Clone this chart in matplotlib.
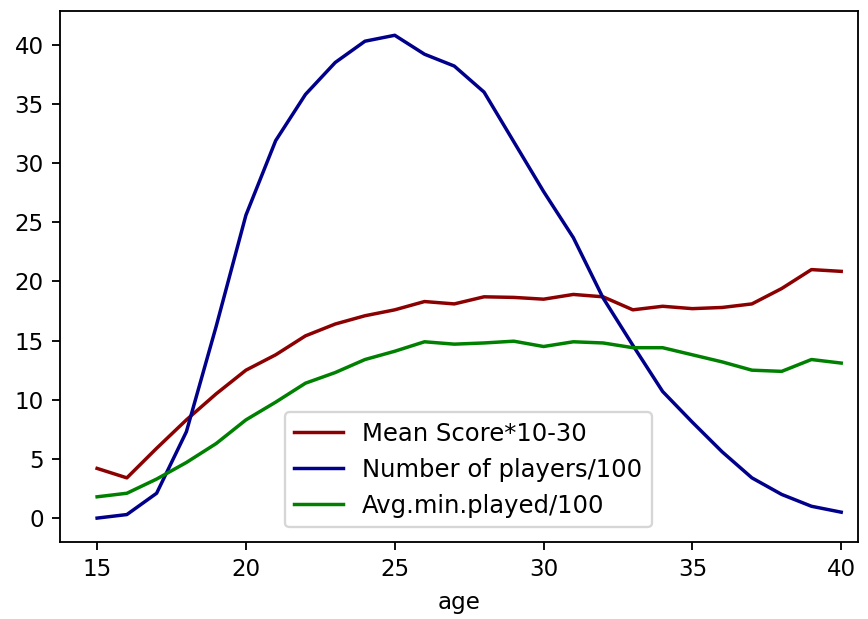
import matplotlib
matplotlib.use("Agg")
import matplotlib.pyplot as plt

# edades
ages = list(range(15, 41))

# puntuacion media *10 - 30
mean_score = [4.2, 3.4, 5.9, 8.3, 10.5, 12.5, 13.8, 15.4, 16.4, 17.1, 17.6, 18.3, 18.1,
              18.7, 18.65, 18.5, 18.9, 18.7, 17.6, 17.9, 17.7, 17.8, 18.1, 19.4, 21.0, 20.85]

# numero de jugadores / 100
players = [0.0, 0.3, 2.1, 7.3, 16.2, 25.6, 31.9, 35.8, 38.5, 40.3, 40.8, 39.2, 38.2,
           36.0, 31.8, 27.6, 23.7, 18.6, 14.6, 10.7, 8.1, 5.6, 3.4, 2.0, 1.0, 0.5]

# minutos jugados / 100
avg_min = [1.8, 2.1, 3.3, 4.7, 6.3, 8.3, 9.8, 11.4, 12.3, 13.4, 14.1, 14.9, 14.7,
           14.8, 14.95, 14.5, 14.9, 14.8, 14.4, 14.4, 13.8, 13.2, 12.5, 12.4, 13.4, 13.1]

DPI = 166
fig = plt.figure(figsize=(868 / DPI, 619 / DPI), dpi=DPI)
ax = fig.add_axes([0.069, 0.124, 0.919, 0.858])

ax.plot(ages, mean_score, color="darkred", label="Mean Score*10-30")
ax.plot(ages, players, color="darkblue", label="Number of players/100")
ax.plot(ages, avg_min, color="green", label="Avg.min.played/100")

ax.set_xlim(13.75, 40.55)
ax.set_xlabel("age")
ax.legend(loc="lower center", bbox_to_anchor=(0.512, 0.005), fontsize=10.5)

fig.savefig("out.png", dpi=DPI)
